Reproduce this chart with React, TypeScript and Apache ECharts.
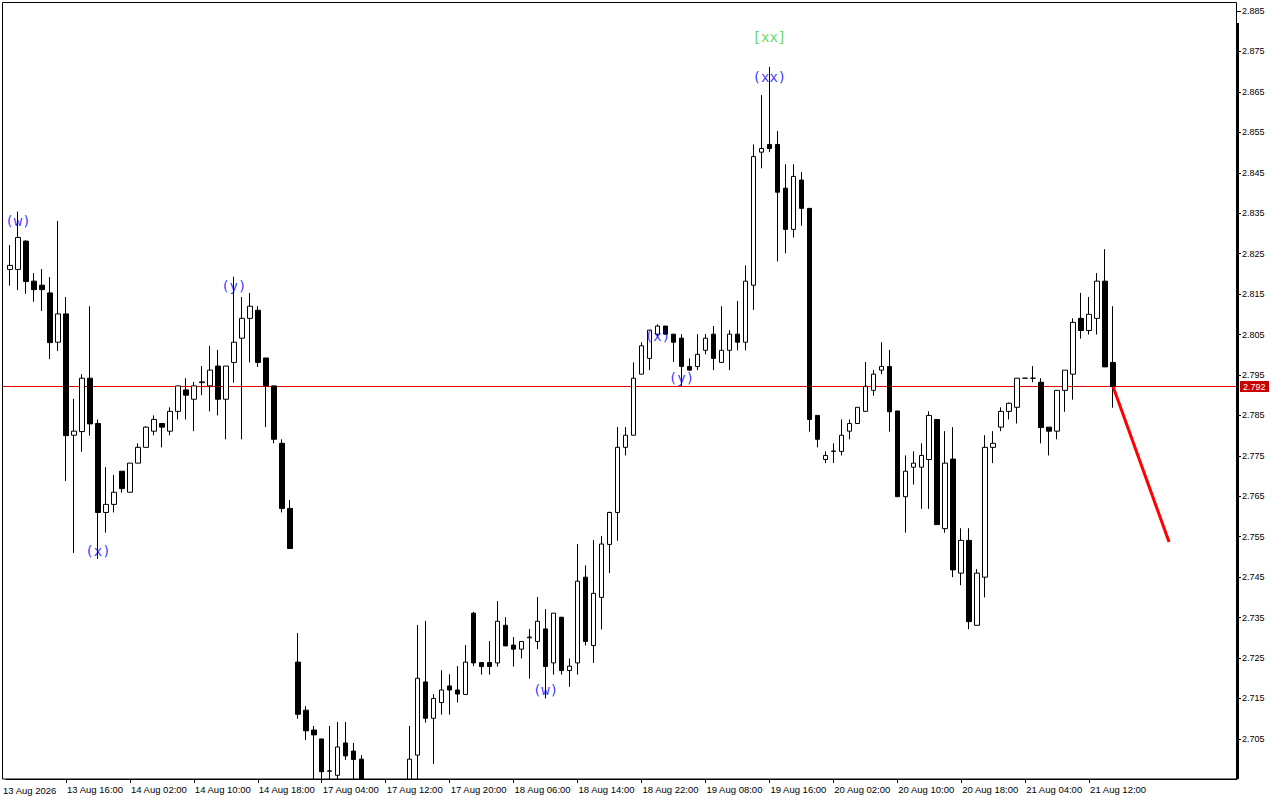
import React, { useEffect, useRef } from "react";
import * as echarts from "echarts";

// ---- Candle data (H1 bars) ----
const opens = [
  2.8211, 2.8211, 2.8281, 2.8182, 2.8172, 2.8153, 2.8031, 2.8101, 2.7801, 2.7810,
  2.7942, 2.7830, 2.7610, 2.7630, 2.7712, 2.7660, 2.7732, 2.7771, 2.7811, 2.7830,
  2.7811, 2.7860, 2.7913, 2.7890, 2.7931, 2.7923, 2.7972, 2.7890, 2.7981, 2.8041,
  2.8090, 2.8110, 2.7992, 2.7923, 2.7781, 2.7620, 2.7240, 2.7121, 2.7072, 2.7050,
  2.6970, 2.6960, 2.7040, 2.7020, 2.7000, 2.6935, 2.6905, 2.6880, 2.6900, 2.6885,
  2.6920, 2.7010, 2.7191, 2.7101, 2.7140, 2.7181, 2.7171, 2.7160, 2.7361, 2.7239,
  2.7239, 2.7238, 2.7331, 2.7282, 2.7272, 2.7300, 2.7291, 2.7322, 2.7238, 2.7351,
  2.7219, 2.7238, 2.7450, 2.7281, 2.7400, 2.7531, 2.7610, 2.7771, 2.7801, 2.7952,
  2.7991, 2.8051, 2.8071, 2.8051, 2.8041, 2.7971, 2.7971, 2.8011, 2.8051, 2.7981,
  2.8011, 2.8051, 2.8031, 2.8172, 2.8501, 2.8520, 2.8520, 2.8412, 2.8310, 2.8432,
  2.8362, 2.7850, 2.7741, 2.7761, 2.7761, 2.7811, 2.7830, 2.7860, 2.7912, 2.7962,
  2.7971, 2.7861, 2.7649, 2.7722, 2.7722, 2.7741, 2.7840, 2.7570, 2.7742, 2.7460,
  2.7541, 2.7331, 2.7450, 2.7771, 2.7821, 2.7860, 2.7870, 2.7942, 2.7942, 2.7932,
  2.7821, 2.7811, 2.7912, 2.7952, 2.8090, 2.8060, 2.8090, 2.8182, 2.7981,
];
const closes = [
  2.8221, 2.8290, 2.8181, 2.8161, 2.8161, 2.8030, 2.8101, 2.7800, 2.7811, 2.7942,
  2.7829, 2.7610, 2.7630, 2.7660, 2.7669, 2.7732, 2.7771, 2.7821, 2.7840, 2.7821,
  2.7860, 2.7923, 2.7900, 2.7923, 2.7933, 2.7962, 2.7890, 2.7972, 2.8031, 2.8090,
  2.8120, 2.7981, 2.7923, 2.7791, 2.7620, 2.7521, 2.7111, 2.7070, 2.7060, 2.6969,
  2.6971, 2.7030, 2.7008, 2.6999, 2.6935, 2.6905, 2.6880, 2.6900, 2.6885, 2.6920,
  2.7000, 2.7200, 2.7101, 2.7150, 2.7171, 2.7171, 2.7161, 2.7240, 2.7238, 2.7229,
  2.7229, 2.7341, 2.7280, 2.7272, 2.7291, 2.7302, 2.7341, 2.7229, 2.7361, 2.7219,
  2.7230, 2.7440, 2.7291, 2.7410, 2.7532, 2.7610, 2.7771, 2.7801, 2.7942, 2.8022,
  2.8061, 2.8071, 2.8051, 2.8031, 2.7971, 2.7962, 2.8001, 2.8041, 2.7991, 2.8011,
  2.8051, 2.8031, 2.8182, 2.8490, 2.8510, 2.8510, 2.8402, 2.8310, 2.8441, 2.8362,
  2.7840, 2.7791, 2.7751, 2.7762, 2.7801, 2.7830, 2.7870, 2.7922, 2.7952, 2.7971,
  2.7859, 2.7649, 2.7712, 2.7732, 2.7751, 2.7850, 2.7580, 2.7732, 2.7468, 2.7541,
  2.7340, 2.7460, 2.7771, 2.7781, 2.7860, 2.7880, 2.7942, 2.7942, 2.7942, 2.7820,
  2.7811, 2.7912, 2.7962, 2.8080, 2.8060, 2.8100, 2.8182, 2.7970, 2.7921,
];
const lows = [
  2.8171, 2.8160, 2.8151, 2.8131, 2.8108, 2.7989, 2.8009, 2.7688, 2.7510, 2.7760,
  2.7800, 2.7495, 2.7560, 2.7610, 2.7659, 2.7660, 2.7732, 2.7771, 2.7801, 2.7771,
  2.7801, 2.7840, 2.7840, 2.7811, 2.7900, 2.7860, 2.7850, 2.7791, 2.7931, 2.7791,
  2.7981, 2.7970, 2.7821, 2.7781, 2.7610, 2.7521, 2.7100, 2.7047, 2.6930, 2.6935,
  2.6940, 2.6945, 2.6998, 2.6940, 2.6910, 2.6890, 2.6865, 2.6870, 2.6875, 2.6880,
  2.6910, 2.6940, 2.7090, 2.6988, 2.7110, 2.7110, 2.7140, 2.7160, 2.7230, 2.7209,
  2.7209, 2.7229, 2.7280, 2.7229, 2.7249, 2.7199, 2.7272, 2.7150, 2.7209, 2.7209,
  2.7179, 2.7209, 2.7281, 2.7238, 2.7321, 2.7460, 2.7540, 2.7751, 2.7801, 2.7952,
  2.7962, 2.8045, 2.8050, 2.7982, 2.7921, 2.7960, 2.7962, 2.8001, 2.7962, 2.7981,
  2.7962, 2.8011, 2.8011, 2.8111, 2.8461, 2.8501, 2.8231, 2.8251, 2.8290, 2.8319,
  2.7810, 2.7771, 2.7732, 2.7732, 2.7751, 2.7791, 2.7830, 2.7860, 2.7899, 2.7952,
  2.7810, 2.7649, 2.7560, 2.7679, 2.7619, 2.7619, 2.7580, 2.7560, 2.7450, 2.7430,
  2.7321, 2.7331, 2.7400, 2.7732, 2.7811, 2.7840, 2.7830, 2.7942, 2.7932, 2.7781,
  2.7751, 2.7791, 2.7859, 2.7889, 2.8040, 2.8050, 2.8050, 2.7970, 2.7869,
];
const highs = [
  2.8271, 2.8354, 2.8283, 2.8202, 2.8212, 2.8192, 2.8331, 2.8143, 2.7891, 2.7952,
  2.8120, 2.7840, 2.7722, 2.7703, 2.7712, 2.7732, 2.7781, 2.7823, 2.7850, 2.7830,
  2.7870, 2.7923, 2.7942, 2.7933, 2.7972, 2.8022, 2.8012, 2.7972, 2.8193, 2.8143,
  2.8153, 2.8120, 2.7992, 2.7923, 2.7791, 2.7641, 2.7312, 2.7131, 2.7082, 2.7050,
  2.7082, 2.7092, 2.7092, 2.7040, 2.7010, 2.6945, 2.6920, 2.6915, 2.6925, 2.6940,
  2.7082, 2.7332, 2.7342, 2.7161, 2.7220, 2.7210, 2.7230, 2.7282, 2.7364, 2.7239,
  2.7292, 2.7391, 2.7351, 2.7302, 2.7291, 2.7322, 2.7401, 2.7371, 2.7361, 2.7351,
  2.7249, 2.7532, 2.7479, 2.7542, 2.7552, 2.7612, 2.7821, 2.7821, 2.7981, 2.8031,
  2.8061, 2.8075, 2.8071, 2.8051, 2.8051, 2.7991, 2.8051, 2.8051, 2.8071, 2.8120,
  2.8061, 2.8133, 2.8221, 2.8520, 2.8642, 2.8712, 2.8553, 2.8471, 2.8471, 2.8452,
  2.8362, 2.7850, 2.7761, 2.7781, 2.7840, 2.7840, 2.7870, 2.7982, 2.7962, 2.8031,
  2.8012, 2.7861, 2.7751, 2.7761, 2.7781, 2.7860, 2.7840, 2.7811, 2.7821, 2.7571,
  2.7571, 2.7470, 2.7801, 2.7811, 2.7870, 2.7882, 2.7942, 2.7942, 2.7972, 2.7942,
  2.7821, 2.7912, 2.7962, 2.8090, 2.8153, 2.8143, 2.8202, 2.8261, 2.8120,
];

// total bar slots on the time axis (candles + empty space on the right)
const SLOT_COUNT = 154;
const categories = Array.from({ length: SLOT_COUNT }, (_, i) => String(i));

// ---- time axis tick labels ----
const firstDateLabel = "13 Aug 2026";
const tickIndices = [7, 15, 23, 31, 39, 47, 55, 63, 71, 79, 87, 95, 103, 111, 119, 127, 135];
const tickLabels = [
  "13 Aug 16:00", "14 Aug 02:00", "14 Aug 10:00", "14 Aug 18:00", "17 Aug 04:00",
  "17 Aug 12:00", "17 Aug 20:00", "18 Aug 06:00", "18 Aug 14:00", "18 Aug 22:00",
  "19 Aug 08:00", "19 Aug 16:00", "20 Aug 02:00", "20 Aug 10:00", "20 Aug 18:00",
  "21 Aug 04:00", "21 Aug 12:00",
];

// ---- price axis ----
const Y_MIN = 2.69509;
const Y_MAX = 2.88723;
const priceTicks = [
  2.705, 2.715, 2.725, 2.735, 2.745, 2.755, 2.765, 2.775, 2.785, 2.795,
  2.805, 2.815, 2.825, 2.835, 2.845, 2.855, 2.865, 2.875, 2.885,
];

// ---- wave labels ----
const waveIndex = [1, 11, 28, 67, 81, 84, 95, 95];
const wavePrice = [2.8331, 2.7514, 2.8170, 2.7172, 2.8046, 2.7943, 2.8687, 2.8786];
const waveText = ["(w)", "(x)", "(y)", "(w)", "(x)", "(y)", "(xx)", "[xx]"];
const waveColor = ["#0000ff", "#0000ff", "#0000ff", "#0000ff", "#0000ff", "#0000ff", "#0000ff", "#32cd32"];

// ---- forecast line ----
const forecastIndex = [138, 145];
const forecastPrice = [2.7921, 2.7537];
const currentPrice = 2.7921;

const FONT = "'Liberation Sans', Arial, sans-serif";

function baseGraphics(): any[] {
  return [
    {
      id: "bottomCover",
      type: "rect",
      silent: true,
      z: 4,
      shape: { x: 0, y: 780, width: 1280, height: 20 },
      style: { fill: "#ffffff" },
    },
    {
      id: "frame",
      type: "rect",
      silent: true,
      z: 10,
      shape: { x: 2.5, y: 2.5, width: 1234, height: 776.5 },
      style: { fill: "none", stroke: "#000000", lineWidth: 1 },
    },
    {
      id: "rightBar",
      type: "rect",
      silent: true,
      z: 10,
      shape: { x: 1236, y: 23, width: 3, height: 756 },
      style: { fill: "#000000" },
    },
    {
      id: "firstDate",
      type: "text",
      silent: true,
      z: 11,
      x: 3,
      y: 785,
      style: {
        text: firstDateLabel,
        fill: "#000000",
        font: "9.5px " + FONT,
        textVerticalAlign: "top",
      },
    },
  ];
}

export default function App() {
  const ref = useRef<HTMLDivElement>(null);

  useEffect(() => {
    if (!ref.current) return;
    const chart = echarts.init(ref.current, null, { renderer: "svg" });
    const tickSet = new Set(tickIndices);
    const candleData = opens.map((o, i) => [o, closes[i], lows[i], highs[i]]);

    const option: any = {
      animation: false,
      backgroundColor: "#ffffff",
      grid: { left: 6, right: 43, top: 2, bottom: 21, containLabel: false },
      xAxis: {
        type: "category",
        data: categories,
        boundaryGap: true,
        z: 12,
        axisLine: { show: true, lineStyle: { color: "#000000", width: 1 } },
        axisTick: {
          show: true,
          alignWithLabel: true,
          interval: (i: number) => tickSet.has(i),
          length: 4,
          lineStyle: { color: "#000000", width: 1 },
        },
        axisLabel: {
          show: true,
          interval: (i: number) => tickSet.has(i),
          formatter: (v: string) => {
            const k = tickIndices.indexOf(Number(v));
            return k >= 0 ? tickLabels[k] : "";
          },
          align: "left",
          padding: [0, 0, 0, 1],
          margin: 5,
          color: "#000000",
          fontFamily: FONT,
          fontSize: 9.5,
        },
        splitLine: { show: false },
      },
      yAxis: {
        type: "value",
        position: "right",
        min: Y_MIN,
        max: Y_MAX,
        z: 12,
        axisLine: { show: false },
        axisTick: {
          show: true,
          customValues: priceTicks,
          length: 4,
          lineStyle: { color: "#000000", width: 1 },
        },
        axisLabel: {
          show: true,
          customValues: priceTicks,
          formatter: (v: number) => v.toFixed(3),
          margin: 5,
          color: "#000000",
          fontFamily: FONT,
          fontSize: 9,
        },
        splitLine: { show: false },
      },
      series: [
        {
          type: "candlestick",
          data: candleData,
          barWidth: 5,
          clip: true,
          silent: true,
          large: false,
          z: 3,
          emphasis: { disabled: true },
          itemStyle: {
            color: "#ffffff",
            color0: "#000000",
            borderColor: "#000000",
            borderColor0: "#000000",
            borderColorDoji: "#000000",
            borderWidth: 1,
          },
        },
        {
          type: "line",
          data: forecastIndex.map((x, i) => [x, forecastPrice[i]]),
          symbol: "none",
          silent: true,
          clip: false,
          z: 5,
          lineStyle: { color: "#ff0000", width: 3 },
        },
        {
          type: "scatter",
          silent: true,
          symbol: "circle",
          symbolSize: 1,
          z: 6,
          itemStyle: { color: "rgba(0,0,0,0)" },
          data: waveIndex.map((x, i) => ({
            value: [x, wavePrice[i]],
            label: { color: waveColor[i] },
          })),
          label: {
            show: true,
            position: "inside",
            formatter: (p: any) => waveText[p.dataIndex],
            fontFamily: "'DejaVu Sans Mono', monospace",
            fontSize: 14,
          },
        },
      ],
      graphic: baseGraphics(),
    };

    chart.setOption(option);

    // current price line + tag, positioned through the price axis scale
    const yPix = Math.round(chart.convertToPixel({ yAxisIndex: 0 }, currentPrice) as number) - 0.5;
    const priceEls: any[] = [
      {
        id: "priceLine",
        type: "line",
        silent: true,
        z: 2,
        shape: { x1: 2, y1: yPix, x2: 1236, y2: yPix },
        style: { stroke: "#ee0000", lineWidth: 1 },
      },
      {
        id: "priceTagBox",
        type: "rect",
        silent: true,
        z: 13,
        shape: { x: 1240, y: yPix - 5.5, width: 29, height: 11 },
        style: { fill: "#c80000" },
      },
      {
        id: "priceTagText",
        type: "text",
        silent: true,
        z: 14,
        x: 1243,
        y: yPix,
        style: {
          text: currentPrice.toFixed(3),
          fill: "#ffffff",
          font: "9px " + FONT,
          textVerticalAlign: "middle",
        },
      },
    ];
    chart.setOption({ graphic: baseGraphics().concat(priceEls) });

    return () => chart.dispose();
  }, []);

  return (
    <div
      ref={ref}
      style={{ position: "fixed", left: 0, top: 0, width: 1280, height: 800, background: "#ffffff" }}
    />
  );
}
